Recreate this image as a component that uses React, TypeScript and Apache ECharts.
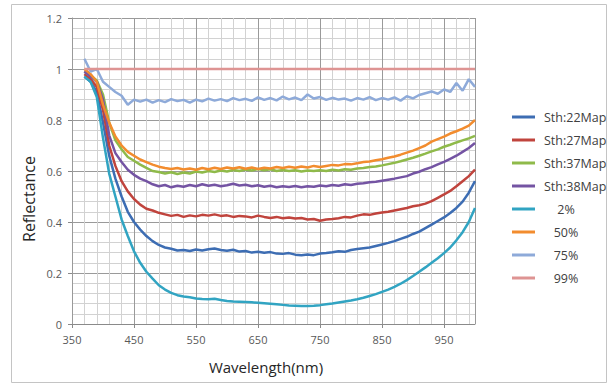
import { useEffect, useRef } from "react";
import * as echarts from "echarts";

// Wavelength (nm) sample positions
const wavelengths = [
  370, 380, 390, 400, 410, 420, 430, 440, 450, 460,
  470, 480, 490, 500, 510, 520, 530, 540, 550, 560,
  570, 580, 590, 600, 610, 620, 630, 640, 650, 660,
  670, 680, 690, 700, 710, 720, 730, 740, 750, 760,
  770, 780, 790, 800, 810, 820, 830, 840, 850, 860,
  870, 880, 890, 900, 910, 920, 930, 940, 950, 960,
  970, 980, 990, 1000,
];

const sth22 = [
  0.97, 0.95, 0.91, 0.79, 0.66, 0.57, 0.50, 0.44, 0.40, 0.37,
  0.345, 0.325, 0.31, 0.30, 0.295, 0.288, 0.29, 0.286, 0.292, 0.288,
  0.293, 0.296, 0.29, 0.287, 0.291, 0.284, 0.286, 0.28, 0.283, 0.279,
  0.282, 0.276, 0.275, 0.278, 0.272, 0.27, 0.273, 0.27, 0.276, 0.278,
  0.281, 0.285, 0.283, 0.29, 0.294, 0.297, 0.30, 0.306, 0.312, 0.318,
  0.325, 0.334, 0.342, 0.353, 0.362, 0.376, 0.39, 0.404, 0.418, 0.435,
  0.455, 0.48, 0.515, 0.56,
];

const sth27 = [
  0.98, 0.96, 0.93, 0.84, 0.70, 0.62, 0.56, 0.52, 0.49, 0.468,
  0.452, 0.445, 0.436, 0.43, 0.424, 0.428, 0.42, 0.426, 0.422, 0.428,
  0.425, 0.43, 0.424, 0.426, 0.42, 0.424, 0.422, 0.418, 0.425, 0.42,
  0.416, 0.42, 0.415, 0.418, 0.414, 0.416, 0.41, 0.412, 0.405, 0.41,
  0.412, 0.415, 0.42, 0.418, 0.425, 0.43, 0.428, 0.433, 0.437, 0.44,
  0.445, 0.45, 0.455, 0.462, 0.466, 0.472, 0.482, 0.495, 0.508, 0.522,
  0.54, 0.56, 0.58, 0.605,
];

const sth37 = [
  0.99, 0.975, 0.955, 0.90, 0.79, 0.72, 0.685, 0.655, 0.64, 0.625,
  0.612, 0.60, 0.596, 0.59, 0.595, 0.588, 0.594, 0.59, 0.598, 0.594,
  0.60, 0.596, 0.602, 0.598, 0.604, 0.6, 0.606, 0.602, 0.608, 0.603,
  0.607, 0.6, 0.604, 0.6, 0.603, 0.598, 0.602, 0.6, 0.603, 0.6,
  0.605, 0.602, 0.607, 0.605, 0.61, 0.612, 0.616, 0.618, 0.622, 0.627,
  0.632, 0.638, 0.645, 0.652, 0.66, 0.668, 0.677, 0.685, 0.695, 0.703,
  0.712, 0.72, 0.728, 0.738,
];

const sth38 = [
  0.99, 0.97, 0.95, 0.88, 0.74, 0.67, 0.635, 0.605, 0.585, 0.57,
  0.56, 0.548, 0.54, 0.545, 0.536, 0.542, 0.538, 0.545, 0.54, 0.548,
  0.542, 0.546, 0.54, 0.544, 0.55, 0.543, 0.546, 0.54, 0.544, 0.538,
  0.542, 0.536, 0.54, 0.537, 0.541, 0.536, 0.54, 0.538, 0.543, 0.54,
  0.545, 0.542, 0.548, 0.545, 0.55, 0.552, 0.556, 0.558, 0.562, 0.566,
  0.57, 0.575, 0.58, 0.59, 0.597, 0.607, 0.615, 0.626, 0.636, 0.648,
  0.66, 0.675, 0.69, 0.71,
];

const pct2 = [
  0.97, 0.95, 0.89, 0.73, 0.59, 0.50, 0.41, 0.345, 0.285, 0.24,
  0.205, 0.178, 0.152, 0.135, 0.122, 0.113, 0.108, 0.105, 0.100, 0.098,
  0.097, 0.099, 0.094, 0.090, 0.088, 0.087, 0.086, 0.085, 0.083, 0.081,
  0.079, 0.077, 0.075, 0.073, 0.072, 0.071, 0.071, 0.072, 0.074, 0.077,
  0.080, 0.084, 0.088, 0.092, 0.097, 0.103, 0.110, 0.117, 0.126, 0.135,
  0.146, 0.158, 0.172, 0.188, 0.205, 0.222, 0.240, 0.258, 0.278, 0.300,
  0.328, 0.360, 0.400, 0.455,
];

const pct50 = [
  1.0, 0.98, 0.95, 0.86, 0.79, 0.735, 0.70, 0.675, 0.66, 0.645,
  0.635, 0.625, 0.617, 0.612, 0.608, 0.612, 0.606, 0.61, 0.605, 0.612,
  0.607, 0.613, 0.608, 0.614, 0.61, 0.615, 0.609, 0.614, 0.608, 0.613,
  0.61, 0.616, 0.612, 0.617, 0.613, 0.618, 0.614, 0.62, 0.616, 0.62,
  0.624, 0.622, 0.627, 0.626, 0.63, 0.635, 0.637, 0.642, 0.646, 0.652,
  0.657, 0.664, 0.672, 0.68, 0.69, 0.70, 0.715, 0.725, 0.735, 0.747,
  0.756, 0.766, 0.778, 0.80,
];

const pct75 = [
  1.04, 0.99, 1.0, 0.95, 0.93, 0.91, 0.895, 0.86, 0.88, 0.872,
  0.88, 0.868, 0.878, 0.87, 0.882, 0.874, 0.879, 0.868, 0.88, 0.873,
  0.884, 0.876, 0.882, 0.874, 0.886, 0.878, 0.883, 0.875, 0.889, 0.879,
  0.886, 0.877, 0.892, 0.881, 0.888, 0.878, 0.9, 0.884, 0.89, 0.879,
  0.887, 0.88, 0.884, 0.876, 0.886, 0.88, 0.89, 0.878, 0.886, 0.88,
  0.889, 0.876, 0.893, 0.885, 0.898, 0.905, 0.912, 0.903, 0.92, 0.91,
  0.945, 0.915, 0.96, 0.93,
];

const wavelengths99 = [370, 1000];
const pct99 = [1.0, 1.0];

const seriesNames = ["Sth:22Map", "Sth:27Map", "Sth:37Map", "Sth:38Map", "2%", "50%", "75%", "99%"];
const seriesColors = ["#3d6db3", "#c0443d", "#8fba4a", "#7454a3", "#31a4c2", "#f28c2e", "#8eaad9", "#de9493"];

// x axis is drawn relative to its left end (350 nm) so ticks fall on 350, 450, ...
const X_START = 350;
const X_END = 1000;

const toPairs = (xs: number[], ys: number[]) => xs.map((x, i) => [x - X_START, ys[i]]);

const seriesData = [
  toPairs(wavelengths, sth22),
  toPairs(wavelengths, sth27),
  toPairs(wavelengths, sth37),
  toPairs(wavelengths, sth38),
  toPairs(wavelengths, pct2),
  toPairs(wavelengths, pct50),
  toPairs(wavelengths, pct75),
  toPairs(wavelengths99, pct99),
];

const FONT = '"Open Sans", "Noto Sans", sans-serif';
const MAJOR = "#9a9a9a";
const MINOR = "#d2d2d2";

export default function App() {
  const ref = useRef<HTMLDivElement>(null);
  useEffect(() => {
    if (!ref.current) return;
    const chart = echarts.init(ref.current, null, { renderer: "svg" });
    chart.setOption({
      animation: false,
      backgroundColor: "#ffffff",
      grid: { left: 72, top: 18, width: 403, height: 306 },
      xAxis: [
        {
          type: "value",
          min: 0,
          max: X_END - X_START,
          interval: 20,
          position: "top",
          z: 0,
          axisLine: { show: false },
          axisTick: { show: false },
          axisLabel: { show: false },
          splitLine: { show: true, lineStyle: { color: MINOR, width: 1 } },
        },
        {
          type: "value",
          min: 0,
          max: X_END - X_START,
          interval: 100,
          position: "bottom",
          z: 1,
          axisLine: { show: true, lineStyle: { color: "#8a8a8a", width: 1 } },
          axisTick: { show: true, length: 4, lineStyle: { color: "#8a8a8a" } },
          axisLabel: {
            formatter: (v: number) => String(v + X_START),
            showMaxLabel: false,
            margin: 10,
            fontSize: 11,
            fontFamily: FONT,
            color: "#595959",
          },
          splitLine: { show: true, lineStyle: { color: MAJOR, width: 1 } },
        },
      ],
      yAxis: {
        type: "value",
        min: 0,
        max: 1.2,
        interval: 0.2,
        axisLine: { show: true, lineStyle: { color: "#8a8a8a", width: 1 } },
        axisTick: { show: true, length: 4, lineStyle: { color: "#8a8a8a" } },
        axisLabel: {
          formatter: (v: number) => String(Math.round(v * 10) / 10),
          margin: 10,
          fontSize: 11,
          fontFamily: FONT,
          color: "#595959",
        },
        splitLine: { show: true, lineStyle: { color: MAJOR, width: 1 } },
        minorTick: { show: false, splitNumber: 5 },
        minorSplitLine: { show: true, lineStyle: { color: MINOR, width: 1 } },
      },
      legend: {
        orient: "vertical",
        left: 507,
        top: 104,
        itemWidth: 23,
        itemHeight: 3,
        itemGap: 7,
        icon: "rect",
        data: seriesNames,
        formatter: (name: string) => (name.indexOf("%") >= 0 ? `{p|${name}}` : `{s|${name}}`),
        textStyle: {
          fontSize: 12.5,
          fontFamily: FONT,
          color: "#404040",
          lineHeight: 16,
          rich: {
            s: { fontSize: 12.5, fontFamily: FONT, color: "#404040", padding: [0, 0, 0, 4], lineHeight: 16 },
            p: { fontSize: 12.5, fontFamily: FONT, color: "#404040", width: 44, align: "center", padding: [0, 0, 0, 4], lineHeight: 16 },
          },
        },
      },
      series: seriesNames.map((name, i) => ({
        name,
        type: "line",
        xAxisIndex: 1,
        data: seriesData[i],
        showSymbol: false,
        symbol: "none",
        smooth: false,
        color: seriesColors[i],
        lineStyle: { width: 2.5, color: seriesColors[i] },
        emphasis: { disabled: true },
      })),
      graphic: [
        {
          type: "rect",
          silent: true,
          z: -10,
          shape: { x: 11.5, y: 4.5, width: 595, height: 378 },
          style: { fill: "none", stroke: "#c4c4c4", lineWidth: 1 },
        },
        {
          type: "text",
          x: 266,
          y: 367,
          style: {
            text: "Wavelength(nm)",
            fontSize: 15,
            fontFamily: FONT,
            fill: "#262626",
            align: "center",
            verticalAlign: "middle",
          },
        },
        {
          type: "text",
          x: 29,
          y: 199,
          rotation: Math.PI / 2,
          style: {
            text: "Reflectance",
            fontSize: 16,
            fontFamily: FONT,
            fill: "#262626",
            align: "center",
            verticalAlign: "middle",
          },
        },
      ],
    });
    return () => chart.dispose();
  }, []);
  return (
    <div
      ref={ref}
      style={{ position: "fixed", left: 0, top: 0, width: 609, height: 386, background: "#fff" }}
    />
  );
}
